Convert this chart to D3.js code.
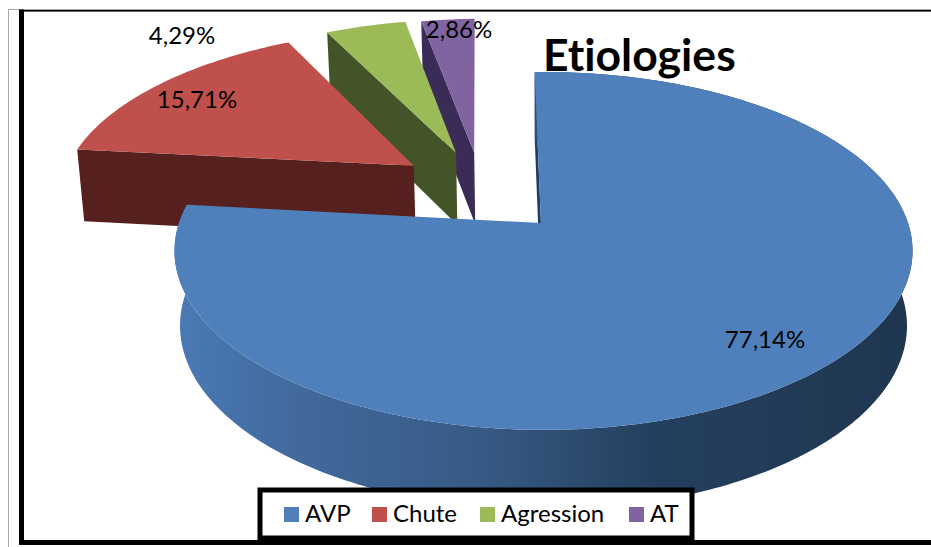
<!DOCTYPE html>
<html><head><meta charset="utf-8">
<script src="https://cdn.jsdelivr.net/npm/d3@7"></script>
<style>html,body{margin:0;padding:0;background:#fff;overflow:hidden}svg{display:block}text{font-family:Lato,"Noto Sans",sans-serif;fill:#000;font-variant-ligatures:none}</style>
</head><body>
<svg id="c" width="931" height="547"></svg>
<script>
const categories = ["AVP","Chute","Agression","AT"];
const values = [77.14,15.71,4.29,2.86];
const topColors = ["#4f80bc","#bf504c","#9bbb59","#8064a2"];
const wallColors = ["#1f3d62","#55201e","#435428","#3a2c57"];
const explodeX = [0,-0.375,-0.256,-0.203];
const explodeY = [0,-0.345,-0.427,-0.431];
const hubShiftX = [-0.007,0,0,0];
const labelPos = [[765,340],[197,100],[182,36],[459,30]];
const legendSwatchX = [284,372,480,629];
const sideStops = [[0,"#4a7ab5"],[0.17,"#41699c"],[0.42,"#375a84"],[0.65,"#24405f"],[1,"#1f3650"]];

const svg = d3.select("#c");
const k = 0.156, cx = 543.5, cy = 223;
const sx = d3.scaleLinear().domain([-1,1]).range([cx-364.5,cx+364.5]);
const sy = d3.scaleLinear().domain([-1,1]).range([cy-174.6,cy+174.6]);
const depth = 74, depthX = 0.985, depthY = 1.03;

function project(X,Y,low){
  const s = 1/(1-k*Y);
  let x = sx(X*s), y = sy(Y*s);
  if(low){ x = cx+(x-cx)*depthX; y = cy+depth+(y-cy)*depthY; }
  return [x,y];
}
const startDeg = -1.6;
const pie = d3.pie().sort(null).value(d=>d)
  .startAngle(startDeg*Math.PI/180).endAngle(2*Math.PI+startDeg*Math.PI/180);
const arcs = pie(values);
const line = d3.line().x(d=>d[0]).y(d=>d[1]);

const defs = svg.append("defs");
const grad = defs.append("linearGradient").attr("id","side")
  .attr("gradientUnits","userSpaceOnUse").attr("x1",175).attr("x2",905).attr("y1",0).attr("y2",0);
sideStops.forEach(s=>grad.append("stop").attr("offset",s[0]).attr("stop-color",s[1]));

function rim(i){
  const a = arcs[i], n = Math.max(8,Math.ceil((a.endAngle-a.startAngle)*60));
  return d3.range(n+1).map(j=>{
    const t = a.startAngle+(a.endAngle-a.startAngle)*j/n;
    return [explodeX[i]+Math.sin(t),explodeY[i]-Math.cos(t)];
  });
}
function drawSlice(i){
  const g = svg.append("g");
  const rimPts = rim(i);
  const top = p=>project(p[0],p[1],false), low = p=>project(p[0],p[1],true);
  const apex = [explodeX[i]+hubShiftX[i],explodeY[i]], first = rimPts[0];
  g.append("path").attr("d",line([top(apex),top(first),low(first),low(apex)])+"Z").attr("fill",wallColors[i]);
  if(i===0){
    g.append("path").attr("d",line(rimPts.map(top).concat(rimPts.slice().reverse().map(low)))+"Z")
      .attr("fill","url(#side)");
  }
  g.append("path").attr("d",line([top(apex)].concat(rimPts.map(top)))+"Z").attr("fill",topColors[i]);
}
[3,2,1,0].forEach(drawSlice);

const fmt = d3.format(".2f");
svg.selectAll("text.lab").data(values).join("text").attr("class","lab")
  .attr("x",(d,i)=>labelPos[i][0]).attr("y",(d,i)=>labelPos[i][1]+8)
  .attr("text-anchor","middle").attr("font-size",24)
  .text(d=>fmt(d).replace(".",",")+"%");

svg.append("text").attr("x",543).attr("y",71).attr("font-size",44.5).attr("font-weight",700).text("Etiologies");

// frame
svg.append("path").attr("d","M8.5 547V9.5H931").attr("fill","none").attr("stroke","#a8a8a8").attr("stroke-width",1);
svg.append("rect").attr("x",19).attr("y",9.5).attr("width",5).attr("height",535).attr("fill","#000");
svg.append("rect").attr("x",19).attr("y",10).attr("width",912).attr("height",1.6).attr("fill","#000");
svg.append("rect").attr("x",19).attr("y",540).attr("width",912).attr("height",5).attr("fill","#000");

// legend
svg.append("rect").attr("x",260).attr("y",490).attr("width",432).attr("height",48)
  .attr("fill","#fff").attr("stroke","#000").attr("stroke-width",5);
const lg = svg.selectAll("g.lg").data(categories).join("g").attr("class","lg");
lg.append("rect").attr("x",(d,i)=>legendSwatchX[i]).attr("y",507).attr("width",15).attr("height",15)
  .attr("fill",(d,i)=>topColors[i]);
lg.append("text").attr("x",(d,i)=>legendSwatchX[i]+21).attr("y",522).attr("font-size",24).text(d=>d);
</script>
</body></html>
